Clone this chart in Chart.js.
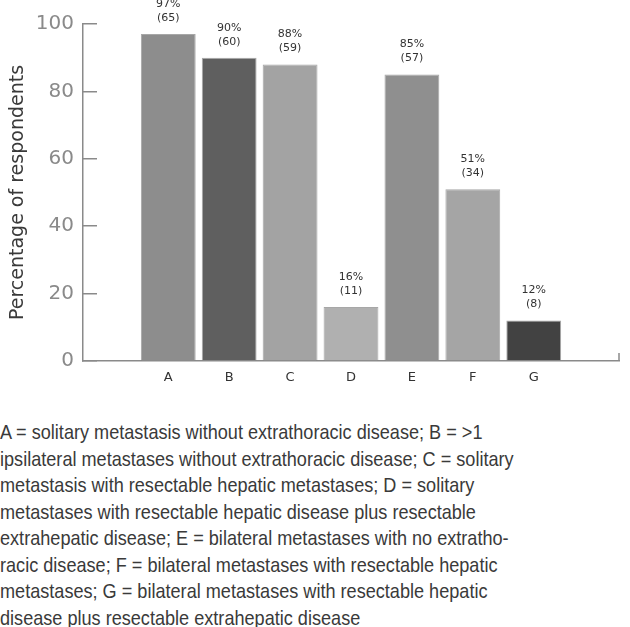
<!DOCTYPE html>
<html>
<head>
<meta charset="utf-8">
<script src="https://cdn.jsdelivr.net/npm/chart.js@4"></script>
<style>
  body { margin: 0; background: #fff; width: 630px; height: 627px; overflow: hidden; }
  #wrap { width: 630px; height: 400px; }
  #caption {
    margin-top: 19px;
    font-family: "Liberation Sans", Arial, sans-serif;
    font-size: 21px;
    line-height: 26.5px;
    color: #3a3a3a;
    white-space: nowrap;
    transform: scaleX(0.862);
    transform-origin: left top;
  }
</style>
</head>
<body>
<div id="wrap"><canvas id="barChart"></canvas></div>
<div id="caption">
A = solitary metastasis without extrathoracic disease; B = &gt;1<br>
ipsilateral metastases without extrathoracic disease; C = solitary<br>
metastasis with resectable hepatic metastases; D = solitary<br>
metastases with resectable hepatic disease plus resectable<br>
extrahepatic disease; E = bilateral metastases with no extratho-<br>
racic disease; F = bilateral metastases with resectable hepatic<br>
metastases; G = bilateral metastases with resectable hepatic<br>
disease plus resectable extrahepatic disease
</div>
<script>
const categories = ['A', 'B', 'C', 'D', 'E', 'F', 'G'];
const percentages = [97, 90, 88, 16, 85, 51, 12];
const counts = [65, 60, 59, 11, 57, 34, 8];
const yTicks = [0, 20, 40, 60, 80, 100];
const barColors = ['#8d8d8d', '#5f5f5f', '#a3a3a3', '#b0b0b0', '#8f8f8f', '#a5a5a5', '#424242'];

// label di atas tiap batang: "97%" lalu "(65)"
const barLabels = {
  id: 'barLabels',
  afterDatasetsDraw(chart) {
    const ctx = chart.ctx;
    const meta = chart.getDatasetMeta(0);
    ctx.save();
    ctx.font = '11px "DejaVu Sans", sans-serif';
    ctx.fillStyle = '#333';
    ctx.textAlign = 'center';
    ctx.textBaseline = 'middle';
    meta.data.forEach((bar, i) => {
      ctx.fillText(percentages[i] + '%', bar.x, bar.y - 30);
      ctx.fillText('(' + counts[i] + ')', bar.x, bar.y - 16);
    });
    // garis kecil di ujung kanan sumbu x
    const area = chart.chartArea;
    ctx.strokeStyle = '#8a8a8a';
    ctx.lineWidth = 1.5;
    ctx.beginPath();
    ctx.moveTo(area.right, area.bottom);
    ctx.lineTo(area.right, area.bottom - 8);
    ctx.stroke();
    ctx.restore();
  },
};

new Chart(document.getElementById('barChart'), {
  type: 'bar',
  data: {
    datasets: [
      {
        data: percentages.map((v, i) => ({ x: i + 1, y: v })),
        backgroundColor: barColors,
        borderColor: 'rgba(60, 60, 60, 0.45)',
        borderWidth: 1,
        barPercentage: 0.9,
        categoryPercentage: 1,
      },
    ],
  },
  options: {
    responsive: true,
    maintainAspectRatio: false,
    animation: false,
    layout: { padding: { top: 24, right: 11, left: 0, bottom: 0 } },
    scales: {
      x: {
        type: 'linear',
        offset: false,
        min: -0.4,
        max: 8.4,
        afterBuildTicks: (axis) => {
          axis.ticks = categories.map((c, i) => ({ value: i + 1 }));
        },
        afterFit: (scale) => { scale.height = 39; },
        grid: { display: false, drawTicks: false },
        border: { color: '#8a8a8a', width: 1.5 },
        ticks: {
          padding: 9,
          color: '#333',
          font: { size: 13, family: 'DejaVu Sans' },
          callback: (v) => categories[v - 1] || '',
        },
      },
      y: {
        min: 0,
        max: 100,
        afterBuildTicks: (axis) => {
          axis.ticks = yTicks.map((v) => ({ value: v }));
        },
        afterFit: (scale) => {
          scale.width = 83;
          scale.paddingTop = 0;
          scale.paddingBottom = 0;
        },
        grid: { drawOnChartArea: false, tickLength: -14, color: '#8a8a8a', lineWidth: 1.5 },
        border: { color: '#8a8a8a', width: 1.5 },
        ticks: {
          padding: 23,
          color: '#8a8a8a',
          font: { size: 20, family: 'DejaVu Sans' },
        },
        title: {
          display: true,
          text: 'Percentage of respondents',
          color: '#3a3a3a',
          padding: { top: 7, bottom: 0 },
          font: { size: 19, family: 'DejaVu Sans', weight: 'normal' },
        },
      },
    },
    plugins: {
      legend: { display: false },
      tooltip: { enabled: false },
    },
  },
  plugins: [barLabels],
});
</script>
</body>
</html>
